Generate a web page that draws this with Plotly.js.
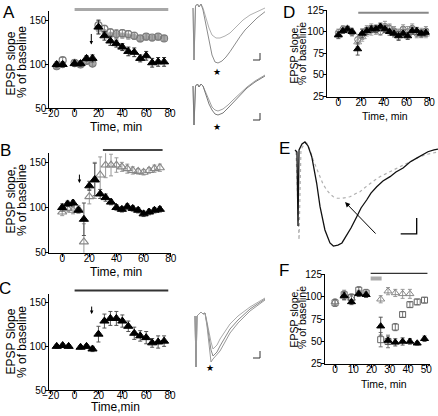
<!DOCTYPE html>
<html><head><meta charset="utf-8">
<script src="https://cdn.plot.ly/plotly-3.0.1.min.js"></script>
<style>html,body{margin:0;padding:0;background:#fff}#chart{width:438px;height:416px}</style>
</head><body><div id="chart"></div>
<script>
// ---------- Panel A ----------
const aTime = [-15,-10,0,5,10,15,20,25,30,35,40,45,50,55,60,65,70,75];
const aTri = [100,100,101,101,107,107,143,133,127,124,120,115,114,107,110,102,103,103];
const aTriErr = [3,3,3,3,3,4,8,5,5,4,4,5,5,4,5,5,5,5];
const aOpen = [98,105,102,100,104,101,145,141,137,135,136,135,133,130,132,131,132,130];
const aOpenErr = [3,3,3,3,3,3,5,4,4,5,4,4,4,3,3,3,3,3];
const aGray = [97,99,100,99,103,100,140,137,134,134,133,132,132,129,131,130,131,130];
const aGrayErr = [2,2,2,2,2,2,4,3,3,3,3,3,3,3,3,3,3,3];
// ---------- Panel B ----------
const bTime = [0,4,8,12,16,20,24,28,32,36,40,44,48,52,56,60,64,68,72];
const bTri = [100,104,105,97,87,124,131,115,111,106,100,98,101,99,97,93,95,97,98];
const bTriErr = [4,3,3,3,18,5,18,5,4,3,3,3,3,3,3,3,3,3,3];
const bOpen = [95,99,97,98,62,112,130,136,147,147,147,145,143,141,140,139,141,143,144];
const bOpenErr = [4,4,4,4,20,8,20,20,14,12,8,5,5,4,3,3,3,4,4];
// ---------- Panel C ----------
const cTime = [-15,-10,-5,5,10,15,20,25,30,35,40,45,50,55,60,65,70,75];
const cTri = [100,101,100,99,100,97,114,129,132,132,129,123,115,112,110,104,105,106];
const cErr = [2,2,2,2,2,3,9,8,8,8,7,6,7,6,7,5,7,6];
// ---------- Panel D ----------
const dTime = [0,4,8,12,17,21,25,29,33,37,41,45,49,53,57,61,65,69,73,77];
const dTri = [96,101,103,100,80,98,101,103,103,106,103,100,98,95,98,95,101,101,98,99];
const dTriErr = [4,3,3,3,7,5,4,4,4,4,4,4,4,5,4,4,4,4,4,4];
const dCirc = [99,103,103,99,91,97,102,104,102,100,106,104,101,97,103,100,104,98,99,101];
const dCircErr = [4,4,3,4,6,6,5,5,5,4,6,5,5,6,5,6,5,5,5,5];
const dOpenTri = [97,101,104,101,88,94,99,101,104,105,104,104,100,98,101,97,102,99,97,97];
const dOpenTriErr = [3,3,3,3,5,5,4,5,4,4,5,4,4,4,4,5,4,4,4,4];
// ---------- Panel F ----------
const fTime = [0,5,9,13,17,25,29,33,37,41,45,49];
const fSquare = [93,102,99,107,104,52,50,66,80,91,94,96];
const fSquareErr = [4,5,4,4,4,8,7,4,3,3,3,3];
const fTri = [null,101,94,103,102,67,51,49,50,50,48,53];
const fTriErr = [0,4,3,3,3,10,4,4,4,3,2,3];
const fOpenTri = [94,100,98,104,102,97,106,104,103,103,null,null];
const fOpenTriErr = [3,4,3,3,3,4,4,4,5,5,0,0];
// ---------- Panel E traces (ms, mV) ----------
const eSolidT = [3.4,4.7,5.4,6.1,8.1,10.1,12.2,14.7,18.0,20.3,23.6,27.0,29.3,32.4,35.1,38.3,41.2,45.1,48.0,51.8,54.7,58.6,62.8,67.6,71.6,76.4,81.1,85.6,89.2,93.2,97.3,100];
const eSolidV = [-0.61,-0.75,-5.76,-0.61,-0.21,-0.07,-0.34,-1.07,-2.85,-4.45,-6.03,-6.91,-7.12,-7.05,-6.91,-6.37,-5.90,-5.13,-4.54,-4.00,-3.53,-3.10,-2.71,-2.42,-2.10,-1.83,-1.43,-1.16,-0.95,-0.73,-0.61,-0.55];
const eDotT = [4.1,6.1,7.4,9.5,11.3,13.5,15.7,18.0,20.3,22.3,24.8,27.0,29.3,31.8,34.9,37.8,40.5,43.9,47.3,50.7,54.1,57.4,60.8,64.9,69.8,74.3,78.9,83.1,87.8,91.9,95.7,100];
const eDotV = [-0.75,-6.71,-0.61,-0.21,-0.14,-0.61,-1.29,-1.83,-2.42,-2.92,-3.32,-3.59,-3.78,-3.87,-3.89,-3.83,-3.78,-3.59,-3.44,-3.15,-2.87,-2.65,-2.42,-2.21,-1.97,-1.73,-1.51,-1.29,-1.07,-0.92,-0.84,-0.75];
// ---------- A inset traces ----------
const aIn1aT = [1.5,2,2.75,3.75,4.5,5.5,6.5,8,9.5,11,13,15,17.5,20,23,26.5,30,33.5,37.5];
const aIn1aV = [-0.8,-6.0,-0.6,-0.4,-0.7,-0.4,-0.8,-1.8,-2.8,-3.5,-3.8,-3.8,-3.6,-3.3,-2.7,-2.0,-1.5,-1.15,-0.8];
const aIn1bT = [1.5,2,2.75,3.75,4.5,5.5,6.5,8,9.5,11,12.5,14,16,18,20,22.5,25,27.5,30,33.5,37.5];
const aIn1bV = [-0.8,-6.0,-0.6,-0.4,-0.7,-0.4,-1.0,-2.5,-4.2,-5.5,-6.2,-6.3,-6.1,-5.7,-5.17,-4.4,-3.67,-3.0,-2.5,-1.8,-1.17];
const aIn2aT = [1.5,2,2.75,3.75,4.5,5.5,6.5,8,9.5,11,12.5,14,16.5,19,21.5,25,28.5,32.5,37.5];
const aIn2aV = [-8.6,-12.5,-8.6,-8.4,-8.7,-8.4,-8.6,-9.3,-10.1,-10.7,-11.0,-11.1,-10.9,-10.5,-10.0,-9.3,-8.7,-8.1,-7.5];
const aIn2bV = [-8.6,-12.5,-8.6,-8.4,-8.7,-8.4,-8.6,-9.5,-10.4,-11.0,-11.4,-11.5,-11.3,-10.8,-10.3,-9.5,-8.8,-8.2,-7.6];
// ---------- C inset traces ----------
const cInT = [2.5,3,3.5,4.5,5.5,6.5,7.5,8.5,9.5,10.5,11.5,13.5,15,17.5,20,24,30,37.5];
const cIn1V = [-2.6,-7.7,-2.6,-2.4,-2.2,-2.4,-2.3,-3.2,-4.3,-5.2,-5.9,-5.5,-4.9,-4.1,-3.4,-2.6,-1.7,-0.8];
const cIn2V = [-2.6,-7.7,-2.6,-2.4,-2.2,-2.4,-2.3,-3.4,-4.7,-6.0,-6.6,-6.2,-5.6,-4.7,-3.9,-3.0,-1.9,-0.9];
const cIn3V = [-2.6,-7.7,-2.6,-2.4,-2.2,-2.4,-2.3,-3.6,-5.2,-7.2,-6.9,-6.4,-6.1,-5.2,-4.3,-3.3,-2.1,-1.0];

const W = 438, H = 416;
const FONT = 'Liberation Sans, Arial, sans-serif';
function xd(a,b){return [a/W,b/W];}
function yd(top,bot){return [1-bot/H,1-top/H];}
function px(x){return x/W;}
function py(y){return 1-y/H;}

const F11 = {family:FONT,size:10,color:'#000'};
const F10 = {family:FONT,size:10,color:'#000'};
function mainAx(extra){
  return Object.assign({showline:true,linecolor:'#000',linewidth:1,ticks:'outside',ticklen:3,tickwidth:1,
    tickcolor:'#000',showgrid:false,zeroline:false,fixedrange:true,tickfont:F11},extra);
}
function hid(extra){return Object.assign({visible:false,fixedrange:true,showgrid:false,zeroline:false},extra);}

function pts(x,y,err,xa,ya,sym,size,col,ecol,lw){
  return {x:x,y:y,xaxis:xa,yaxis:ya,mode:'markers',type:'scatter',
    marker:{symbol:sym,size:size,color:col,line:{color:col,width:lw||1}},
    error_y:{type:'data',array:err,visible:true,color:ecol,thickness:1,width:2}};
}
function ln(x,y,xa,ya,col,w,dash){
  return {x:x,y:y,xaxis:xa,yaxis:ya,mode:'lines',type:'scatter',line:{color:col,width:w,dash:dash||'solid'}};
}

const data = [
  pts(aTime,aGray,aGrayErr,'x','y','circle',5,'#a8a8a8','#a8a8a8'),
  pts(aTime,aOpen,aOpenErr,'x','y','circle-open',7,'#7a7a7a','#8a8a8a',1.2),
  pts(aTime,aTri,aTriErr,'x','y','triangle-up',8,'#000','#333'),
  pts(bTime,bOpen,bOpenErr,'x2','y2','triangle-up-open',8,'#888','#999',1.1),
  pts(bTime,bTri,bTriErr,'x2','y2','triangle-up',8,'#000','#555'),
  pts(cTime,cTri,cErr,'x3','y3','triangle-up',8,'#000','#555'),
  pts(dTime,dOpenTri,dOpenTriErr,'x4','y4','triangle-up-open',7,'#999','#aaa',1),
  pts(dTime,dCirc,dCircErr,'x4','y4','circle-open',6,'#777','#999',1),
  pts(dTime,dTri,dTriErr,'x4','y4','triangle-up',7,'#000','#555'),
  pts(fTime,fOpenTri,fOpenTriErr,'x5','y5','triangle-up-open',7,'#888','#999',1),
  pts(fTime,fSquare,fSquareErr,'x5','y5','square-open',6,'#666','#777',1),
  pts(fTime,fTri,fTriErr,'x5','y5','triangle-up',7,'#000','#555'),
  ln(eDotT,eDotV,'x6','y6','#b0b0b0',1.2,'dot'),
  ln(eSolidT,eSolidV,'x6','y6','#111',1.3),
  ln(aIn1aT,aIn1aV,'x7','y7','#b0b0b0',1),
  ln(aIn1bT,aIn1bV,'x7','y7','#8c8c8c',1),
  ln(aIn2aT,aIn2aV,'x7','y7','#a0a0a0',1),
  ln(aIn2aT,aIn2bV,'x7','y7','#7a7a7a',1),
  ln(cInT,cIn1V,'x8','y8','#aaa',1),
  ln(cInT,cIn2V,'x8','y8','#888',1),
  ln(cInT,cIn3V,'x8','y8','#999',1)
];

const XS = -7, YS = -3;
const layout = {
  width:W,height:H,margin:{l:0,r:0,t:0,b:0},paper_bgcolor:'#fff',plot_bgcolor:'rgba(0,0,0,0)',
  showlegend:false,hovermode:false,font:{family:FONT,color:'#000'},
  xaxis: mainAx({domain:xd(49.3,170.3),range:[-21.2,80.2],tickvals:[-20,0,20,40,60,80],anchor:'y',ticklabelstandoff:XS}),
  yaxis: mainAx({domain:yd(11.4,108),range:[50,161],tickvals:[50,100,150],anchor:'x',ticklabelstandoff:YS}),
  xaxis2: mainAx({domain:xd(49.3,171),range:[-9.5,80.2],tickvals:[0,20,40,60,80],anchor:'y2',ticklabelstandoff:XS}),
  yaxis2: mainAx({domain:yd(153.3,252.7),range:[50,160],tickvals:[50,100,150],anchor:'x2',ticklabelstandoff:YS}),
  xaxis3: mainAx({domain:xd(49.3,170.3),range:[-21.2,80.2],tickvals:[-20,0,20,40,60,80],anchor:'y3',ticklabelstandoff:XS}),
  yaxis3: mainAx({domain:yd(294,390),range:[50,160],tickvals:[50,100,150],anchor:'x3',ticklabelstandoff:YS}),
  xaxis4: mainAx({domain:xd(327,429.5),range:[-10,80.2],tickvals:[0,20,40,60,80],anchor:'y4',tickfont:F10,ticklabelstandoff:XS}),
  yaxis4: mainAx({domain:yd(10,96.7),range:[24.9,125.1],tickvals:[25,50,75,100,125],anchor:'x4',tickfont:F10,ticklabelstandoff:YS}),
  xaxis5: mainAx({domain:xd(325,430),range:[-5.5,52],tickvals:[0,10,20,30,40,50],anchor:'y5',tickfont:F10,ticklabelstandoff:XS}),
  yaxis5: mainAx({domain:yd(274,364),range:[24.9,125.1],tickvals:[25,50,75,100,125],anchor:'x5',tickfont:F10,ticklabelstandoff:YS}),
  xaxis6: hid({domain:xd(290,438),range:[0,100],anchor:'y6'}),
  yaxis6: hid({domain:yd(138,262),range:[-8.2,0.2],anchor:'x6'}),
  xaxis7: hid({domain:xd(190,268),range:[0,39],anchor:'y7'}),
  yaxis7: hid({domain:yd(0,130),range:[-13,0],anchor:'x7'}),
  xaxis8: hid({domain:xd(190,268),range:[0,39],anchor:'y8'}),
  yaxis8: hid({domain:yd(290,375),range:[-8.5,0],anchor:'x8'}),
  shapes: [
    {type:'line',xref:'x',yref:'paper',x0:0,x1:78.5,y0:py(9.5),y1:py(9.5),line:{color:'#a8a8a8',width:3}},
    {type:'line',xref:'x2',yref:'paper',x0:30,x1:74,y0:py(150),y1:py(150),line:{color:'#444',width:2}},
    {type:'line',xref:'x3',yref:'paper',x0:0,x1:78.5,y0:py(290.5),y1:py(290.5),line:{color:'#333',width:2}},
    {type:'line',xref:'x4',yref:'paper',x0:17.5,x1:79.5,y0:py(12.7),y1:py(12.7),line:{color:'#888',width:2}},
    {type:'line',xref:'x5',yref:'paper',x0:19.5,x1:50.6,y0:py(273.3),y1:py(273.3),line:{color:'#333',width:1.3}},
    {type:'line',xref:'x5',yref:'paper',x0:19.5,x1:25.5,y0:py(278.5),y1:py(278.5),line:{color:'#aaa',width:4}},
    // scale bars
    {type:'path',xref:'x6',yref:'y6',path:'M 74.8 -6.3 L 85.6 -6.3 L 85.6 -5.22',line:{color:'#000',width:1.3}},
    {type:'path',xref:'x7',yref:'y7',path:'M 31.5 -6.0 L 35 -6.0 L 35 -5.3',line:{color:'#333',width:1}},
    {type:'path',xref:'x7',yref:'y7',path:'M 31.5 -12.0 L 35 -12.0 L 35 -11.3',line:{color:'#333',width:1}},
    {type:'path',xref:'x8',yref:'y8',path:'M 31.5 -6.8 L 35 -6.8 L 35 -6.1',line:{color:'#333',width:1}}
  ],
  annotations: []
};

const A = layout.annotations;
function txt(x,y,t,size,extra){A.push(Object.assign({xref:'paper',yref:'paper',x:px(x),y:py(y),text:t,showarrow:false,
  xanchor:'center',yanchor:'middle',font:{family:FONT,size:size,color:'#000'}},extra||{}));}
// panel letters
txt(9,12,'A',17); txt(5,150,'B',17); txt(5,288,'C',17);
txt(289,12,'D',17); txt(284,149,'E',17); txt(284,270,'F',17);
// y titles
txt(10.5,64,'EPSP slope',12,{textangle:-90}); txt(22,62,'% of baseline',12,{textangle:-90});
txt(10.5,200,'EPSP slope,',12,{textangle:-90}); txt(22,200,'% of baseline',12,{textangle:-90});
txt(10.5,342,'EPSP Slope',12,{textangle:-90}); txt(22,342,'% of baseline',12,{textangle:-90});
txt(293.5,54,'EPSP slope,',10.5,{textangle:-90}); txt(302,54,'% of baseline',10.5,{textangle:-90});
txt(293.5,318,'EPSP slope,',10.5,{textangle:-90}); txt(302,318,'% of baseline',10.5,{textangle:-90});
// x titles
txt(116,127.5,'Time, min',12); txt(116,271.5,'Time, min',12); txt(115,407,'Time,min',12);
txt(385,116,'Time, min',10.5); txt(384,384,'Time, min',10.5);
// stars
function star(xa,ya,x,y){A.push({xref:xa,yref:ya,x:x,y:y,text:'★',showarrow:false,font:{family:'DejaVu Sans',size:9,color:'#000'}});}
star('x7','y7',13.35,-7.17); star('x7','y7',13.35,-12.67); star('x8','y8',10,-7.8);
// arrows
function arr(xa,ya,x,y,ax,ay,w,size){A.push({xref:xa,yref:ya,x:x,y:y,ax:ax,ay:ay,text:'',showarrow:true,
  arrowhead:2,arrowsize:size||0.7,arrowwidth:w||1,arrowcolor:'#000'});}
arr('x','y',14,123,0,-12); arr('x2','y2',12.7,127,0,-10); arr('x3','y3',14.3,137,0,-9);
arr('x6','y6',37.2,-4.14,32,33,1,1);

Plotly.newPlot('chart',data,layout,{staticPlot:true,displayModeBar:false});
</script></body></html>
